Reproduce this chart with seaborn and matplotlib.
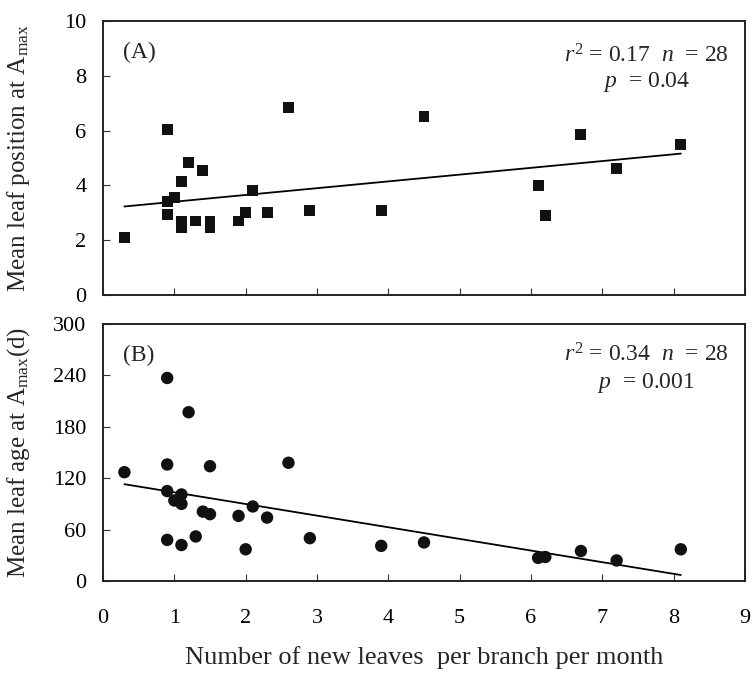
"""
Two stacked scatter panels: leaf position / leaf age at Amax vs.
number of new leaves per branch per month, each with a linear fit.
"""
import matplotlib
matplotlib.use("Agg")
import matplotlib.pyplot as plt
import pandas as pd
import seaborn as sns

# ---- data ---------------------------------------------------------------
pos_x = [0.3, 0.9, 0.9, 0.9, 1.0, 1.1, 1.1, 1.1, 1.2, 1.3, 1.4, 1.5, 1.5,
         1.9, 2.0, 2.1, 2.3, 2.6, 2.9, 3.9, 4.5, 6.1, 6.2, 6.7, 7.2, 8.1]
pos_y = [2.1, 6.05, 3.4, 2.95, 3.55, 4.15, 2.7, 2.45, 4.85, 2.7, 4.55, 2.7,
         2.45, 2.7, 3.0, 3.8, 3.0, 6.85, 3.1, 3.1, 6.5, 4.0, 2.9, 5.85,
         4.6, 5.5]
pos_fit_x = [0.3, 8.1]
pos_fit_y = [3.23, 5.16]

age_x = [0.3, 0.9, 0.9, 0.9, 0.9, 1.0, 1.1, 1.1, 1.1, 1.2, 1.3, 1.4, 1.5,
         1.5, 1.9, 2.0, 2.1, 2.3, 2.6, 2.9, 3.9, 4.5, 6.1, 6.2, 6.7, 7.2,
         8.1]
age_y = [127, 237, 136, 105, 48, 94, 101, 90, 42, 197, 52, 81, 134, 78, 76,
         37, 87, 74, 138, 50, 41, 45, 27, 28, 35, 24, 37]
age_fit_x = [0.3, 8.1]
age_fit_y = [113, 7]

x_ticks = list(range(0, 10))
pos_ticks = [0, 2, 4, 6, 8, 10]
age_ticks = [0, 60, 120, 180, 240, 300]

pos_df = pd.DataFrame({"x": pos_x, "y": pos_y})
age_df = pd.DataFrame({"x": age_x, "y": age_y})

sns.set_theme(style="ticks")
plt.rcParams["font.family"] = ["Liberation Serif", "DejaVu Serif"]
plt.rcParams["mathtext.fontset"] = "custom"
plt.rcParams["mathtext.rm"] = "Liberation Serif"
plt.rcParams["mathtext.it"] = "Liberation Serif:italic"

fig = plt.figure(figsize=(7.54, 6.73), dpi=100)
ax1 = fig.add_axes([0.1366, 0.5617, 0.8515, 0.4071])
ax2 = fig.add_axes([0.1366, 0.1367, 0.8515, 0.3819])

FS = 16       # tick labels
LAB_FS = 18   # axis labels
TXT_FS = 17   # annotations


def style_axis(ax, yticks, ylabel):
    ax.set_xlim(0, 9)
    ax.set_ylim(yticks[0], yticks[-1])
    ax.set_xticks(x_ticks)
    ax.set_yticks(yticks)
    ax.tick_params(direction="in", length=5, width=0.8, colors="#333333",
                   labelcolor="black", labelsize=FS)
    ax.tick_params(axis="y", pad=12)
    ax.tick_params(axis="x", pad=20)
    for sp in ax.spines.values():
        sp.set_visible(True)
        sp.set_linewidth(1.4)
        sp.set_color("#222222")
    ax.set_ylabel(ylabel, fontsize=LAB_FS)
    ax.yaxis.set_label_coords(-0.11, 0.5)
    ax.set_xlabel("")


# ---- (A) leaf position ---------------------------------------------------
sns.scatterplot(data=pos_df, x="x", y="y", ax=ax1, marker="s", s=62,
                color="#111111", edgecolor="none", zorder=3)
sns.lineplot(x=pos_fit_x, y=pos_fit_y, ax=ax1, color="black", lw=1.3)
style_axis(ax1, pos_ticks, r"Mean leaf position at A$_{\mathrm{max}}$")
ax1.tick_params(labelbottom=False)
ax1.text(0.031, 0.885, "(A)", transform=ax1.transAxes, fontsize=FS + 1,
         va="center", ha="left")
ax1.text(0.846, 0.872, r"$r^{2}$ = 0.17  $n$  = 28", transform=ax1.transAxes,
         fontsize=TXT_FS, va="center", ha="center")
ax1.text(0.846, 0.777, r"$p$  = 0.04", transform=ax1.transAxes,
         fontsize=TXT_FS, va="center", ha="center")

# ---- (B) leaf age --------------------------------------------------------
sns.scatterplot(data=age_df, x="x", y="y", ax=ax2, marker="o", s=80,
                color="#111111", edgecolor="none", zorder=3)
sns.lineplot(x=age_fit_x, y=age_fit_y, ax=ax2, color="black", lw=1.3)
style_axis(ax2, age_ticks, r"Mean leaf age at A$_{\mathrm{max}}$(d)")
ax2.text(0.031, 0.878, "(B)", transform=ax2.transAxes, fontsize=FS + 1,
         va="center", ha="left")
ax2.text(0.846, 0.878, r"$r^{2}$ = 0.34  $n$  = 28", transform=ax2.transAxes,
         fontsize=TXT_FS, va="center", ha="center")
ax2.text(0.846, 0.769, r"$p$  = 0.001", transform=ax2.transAxes,
         fontsize=TXT_FS, va="center", ha="center")
ax2.set_xlabel("Number of new leaves  per branch per month", fontsize=19,
               labelpad=13)

fig.savefig("out.png", dpi=100)
